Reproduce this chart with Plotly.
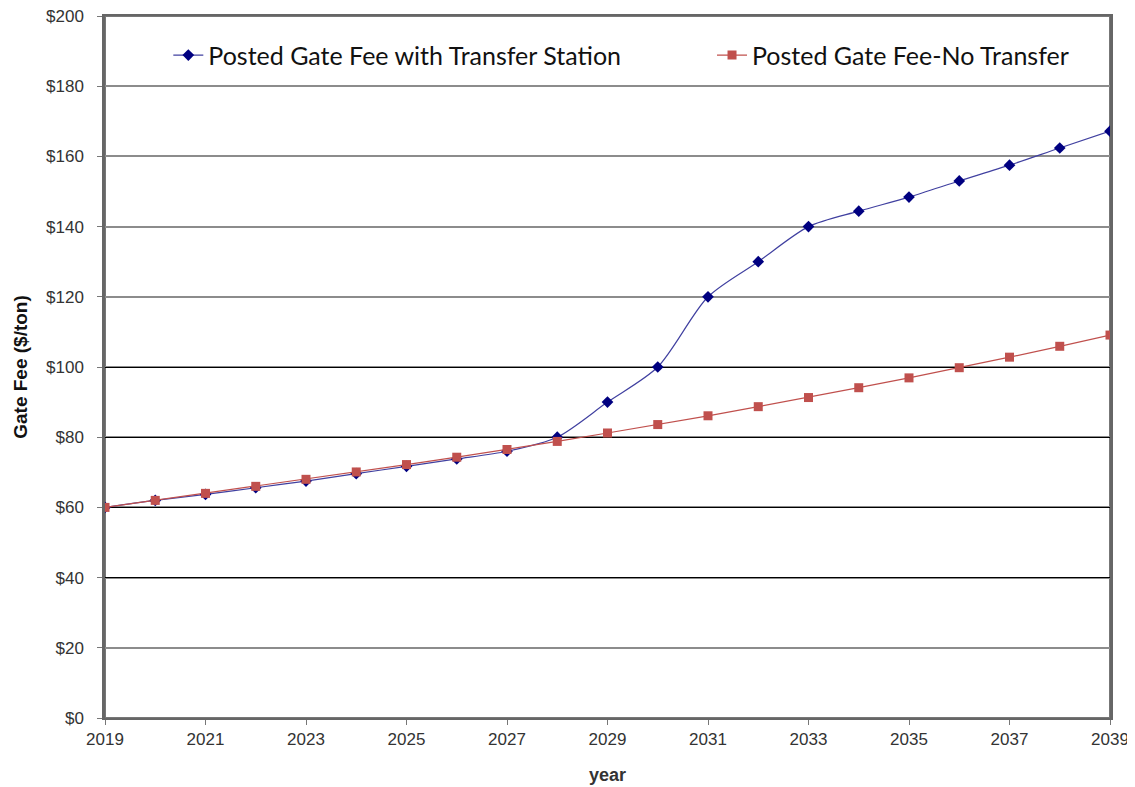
import plotly.graph_objects as go

years = list(range(2019, 2040))
with_transfer = [60, 62, 63.7, 65.6, 67.5, 69.6, 71.7, 73.8, 76, 80, 90, 100, 120, 130, 140,
                 144.4, 148.4, 153, 157.5, 162.4, 167.2]
no_transfer = [60, 62, 64, 66, 68, 70.1, 72.2, 74.3, 76.5, 78.8, 81.2, 83.6, 86.1, 88.7, 91.3,
               94.1, 96.9, 99.8, 102.8, 105.9, 109.1]
y_ticks = list(range(0, 201, 20))
y_labels = [f"${v}" for v in y_ticks]
dark_grid = [40, 60, 80, 100]
x_ticks = list(range(2019, 2040, 2))

fig = go.Figure()
fig.add_trace(go.Scatter(
    x=years, y=with_transfer, name="Posted Gate Fee with Transfer Station",
    mode="lines+markers", line=dict(color="#4040A0", width=1.2, shape="spline", smoothing=0.8),
    marker=dict(symbol="diamond", size=9, color="#000080"), legend="legend",
))
fig.add_trace(go.Scatter(
    x=years, y=no_transfer, name="Posted Gate Fee-No Transfer",
    mode="lines+markers", line=dict(color="#C0504D", width=1.2),
    marker=dict(symbol="square", size=9, color="#C0504D"), legend="legend2",
))
# invisible trace to anchor overlay axis with dark gridlines
fig.add_trace(go.Scatter(x=[years[0]], y=[0], yaxis="y2", mode="markers",
                         marker=dict(opacity=0), showlegend=False, hoverinfo="skip"))

tick_font = dict(family="Liberation Sans, Arial", size=17, color="#333333")
legend_font = dict(family="Lato, Open Sans", size=25, color="#111111")
fig.update_layout(
    width=1127, height=779,
    margin=dict(l=97, r=25, t=8, b=69),
    paper_bgcolor="white", plot_bgcolor="white",
    showlegend=True,
    legend=dict(x=0.063, y=0.944, xanchor="left", yanchor="middle",
                font=legend_font, bgcolor="rgba(0,0,0,0)"),
    legend2=dict(x=0.604, y=0.944, xanchor="left", yanchor="middle",
                 font=legend_font, bgcolor="rgba(0,0,0,0)"),
    xaxis=dict(range=[2019, 2039], tickvals=x_ticks, ticks="outside", ticklen=5,
               tickcolor="#777777", tickfont=tick_font, showgrid=False,
               showline=True, linecolor="#666666", linewidth=2, mirror=True,
               automargin=False, ticklabeloverflow="allow",
               title=dict(text="<b>year</b>", font=dict(family="Liberation Sans, Arial", size=18, color="#333333"),
                          standoff=20),
               zeroline=False),
    yaxis=dict(range=[0, 200], tickvals=y_ticks, ticktext=y_labels, ticks="outside", ticklen=5,
               tickcolor="#777777", tickfont=tick_font, showgrid=True, gridcolor="#8c8c8c",
               gridwidth=1.5, showline=True, linecolor="#666666", linewidth=2.5, mirror=True,
               automargin=False, ticklabeloverflow="allow", ticklabelstandoff=10,
               title=dict(text="<b>Gate Fee ($/ton)</b>", font=dict(family="Liberation Sans, Arial", size=19, color="#111111"),
                          standoff=14),
               zeroline=False),
    yaxis2=dict(range=[0, 200], overlaying="y", tickvals=dark_grid, showticklabels=False,
                showgrid=True, gridcolor="#000000", gridwidth=1.2, zeroline=False, showline=False),
    shapes=[dict(type="rect", xref="paper", yref="paper", x0=0, x1=1, y0=0, y1=1,
                 line=dict(color="#777777", width=2), layer="below")],
)
fig.write_html("out.html")
